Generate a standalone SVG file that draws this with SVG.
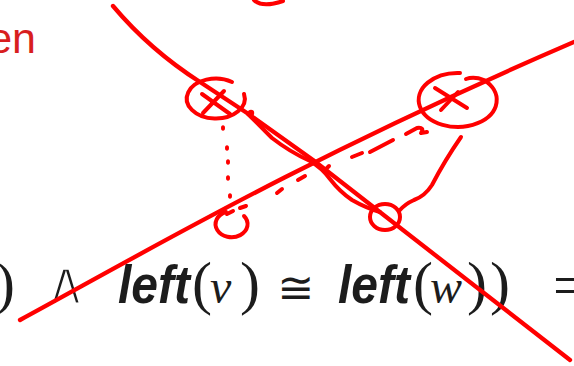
<svg xmlns="http://www.w3.org/2000/svg" width="574" height="366" viewBox="0 0 574 366">
<style>
.ink{fill:none;stroke:#ff0000;stroke-width:4.3;stroke-linecap:round;stroke-linejoin:round}
.thin{fill:none;stroke:#ff0000;stroke-width:4;stroke-linecap:round;stroke-linejoin:round}
.dot{fill:#ff0000}
.m{fill:#1c1c1c}
.sans{font-family:"Liberation Sans",Arial,sans-serif;font-weight:bold;font-style:italic;font-size:54px}
.ser{font-family:"Liberation Serif","Times New Roman",serif;font-size:60px}
.it{font-family:"Liberation Serif","Times New Roman",serif;font-style:italic;font-size:48px}
.sym{font-family:"DejaVu Sans",sans-serif}
</style>
<rect width="574" height="366" fill="#ffffff"/>
<g id="slide-text">
<text x="36" y="53" font-family="Liberation Sans, Arial, sans-serif" font-size="43" fill="#d81e1e" text-anchor="end">en</text>
<text class="ser m" x="-5" y="303">)</text>
<text class="sym m" x="66" y="304" font-size="62" text-anchor="middle" stroke="#ffffff" stroke-width="3.2">∧</text>
<text class="sans m" x="118" y="303" textLength="72" lengthAdjust="spacingAndGlyphs">left</text>
<text class="ser m" x="192" y="303">(</text>
<text class="it m" x="210" y="303">v</text>
<text class="ser m" x="240" y="303">)</text>
<text class="sym m" x="296" y="303" font-size="44" text-anchor="middle">≅</text>
<text class="sans m" x="338" y="303" textLength="72" lengthAdjust="spacingAndGlyphs">left</text>
<text class="ser m" x="413" y="303">(</text>
<text class="it m" x="430" y="303">w</text>
<text class="ser m" x="467" y="303">)</text>
<text class="ser m" x="490" y="303">)</text>
<text class="ser m" x="553" y="305">=</text>
</g>
<g id="annotations">
<path class="ink" d="M113,6 Q150,50 200,82 L247,113 L313,160 L570,360"/>
<path class="ink" d="M20,320 C140,255 300,160 574,42"/>
<path class="thin" d="M254,0 Q262,8 283,1"/>
<g id="circle-left-top">
<path class="thin" d="M232,82 A29,20 0 1 0 244,94"/>
<path class="thin" d="M202,94 L230,114 M203,113 L224,91"/>
<circle class="dot" cx="251" cy="113" r="3.2"/>
</g>
<g id="dotted">
<ellipse class="dot" cx="223" cy="128" rx="2" ry="2.8"/>
<ellipse class="dot" cx="227" cy="148" rx="2" ry="2.8"/>
<ellipse class="dot" cx="228" cy="162" rx="2" ry="2.8"/>
<ellipse class="dot" cx="228" cy="178" rx="2" ry="2.8"/>
<ellipse class="dot" cx="230" cy="196" rx="2" ry="2.8"/>
</g>
<g id="circle-left-bottom">
<path class="thin" d="M226,212 A16,13 0 1 0 244,216"/>
<path class="thin" d="M227,214 L233,211 M240,208 L246,206"/>
</g>
<g id="dashes">
<path class="thin" d="M277,193 L282,189 M298,180 L305,176 M327,168 L329,166 M352,157 L362,153 M370,152 L393,140 M406,134 L417,128 Q425,127 421,133 L427,132"/>
</g>
<g id="circle-right-top">
<path class="thin" d="M466,79 Q474,76 484,80 A39,27 0 1 1 460,73"/>
<path class="thin" d="M435,88 L467,108 M441,110 L458,92"/>
</g>
<path class="thin" d="M461,137 Q445,160 432,185 Q425,196 414,200 Q405,204 399,211"/>
<g id="circle-bottom-mid">
<ellipse class="thin" cx="385" cy="217" rx="15" ry="13"/>
</g>
<path class="thin" d="M248,114 Q262,128 272,138 Q290,152 310,161 Q322,168 330,179 Q340,192 352,200 Q366,208 380,212"/>
</g>
</svg>
